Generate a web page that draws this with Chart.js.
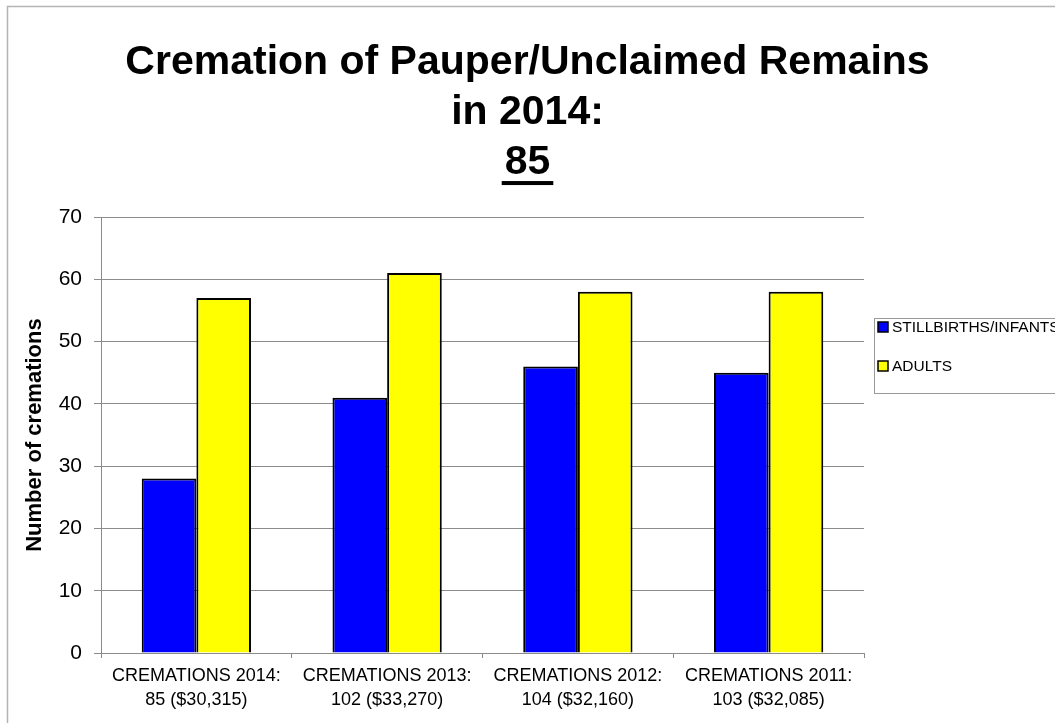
<!DOCTYPE html>
<html>
<head>
<meta charset="utf-8">
<script src="https://cdn.jsdelivr.net/npm/chart.js@4/dist/chart.umd.min.js"></script>
<style>
  html, body { margin: 0; padding: 0; background: #fff; overflow: hidden; }
  #wrap { width: 1055px; height: 723px; position: relative; }
</style>
</head>
<body>
<div id="wrap"><canvas id="chart"></canvas></div>
<script>
const titleLines = ['Cremation of Pauper/Unclaimed Remains', 'in 2014:', '85'];
const categories = [
  ['CREMATIONS 2014:', '85 ($30,315)'],
  ['CREMATIONS 2013:', '102 ($33,270)'],
  ['CREMATIONS 2012:', '104 ($32,160)'],
  ['CREMATIONS 2011:', '103 ($32,085)'],
];
const seriesNames = ['STILLBIRTHS/INFANTS', 'ADULTS'];
const stillbirths = [28, 41, 46, 45];
const adults = [57, 61, 58, 58];
const yTicks = [0, 10, 20, 30, 40, 50, 60, 70];

const FONT = "'Liberation Sans', Arial, sans-serif";
const GRID = '#8c8c8c';

// outer frame of the chart object
const framePlugin = {
  id: 'frame',
  beforeDraw(chart) {
    const ctx = chart.ctx;
    ctx.save();
    ctx.strokeStyle = '#b4b4b4';
    ctx.lineWidth = 1.5;
    ctx.strokeRect(7.5, 6.5, chart.width + 20, chart.height + 20);
    ctx.restore();
  },
};

// underline under the last title line
const underlinePlugin = {
  id: 'underline',
  afterDraw(chart) {
    const tb = chart.titleBlock;
    const opts = chart.options.plugins.title;
    const ctx = chart.ctx;
    ctx.save();
    ctx.font = `bold ${opts.font.size}px ${FONT}`;
    const w = ctx.measureText(titleLines[titleLines.length - 1]).width + 6;
    const lh = opts.font.size * opts.font.lineHeight;
    const cy = tb.top + opts.padding.top + lh * (titleLines.length - 0.5);
    const cx = (tb.left + tb.right) / 2;
    ctx.fillStyle = '#000';
    ctx.fillRect(cx - w / 2, cy + 18, w, 4);
    ctx.restore();
  },
};

// Excel-style boxed legend on the right, clipped by the canvas edge
const legendPlugin = {
  id: 'boxLegend',
  afterDraw(chart) {
    const ctx = chart.ctx;
    const x0 = 874, y0 = 318;
    ctx.save();
    ctx.strokeStyle = '#9a9a9a';
    ctx.lineWidth = 1;
    ctx.strokeRect(x0 + 0.5, y0 + 0.5, 220, 75);
    ctx.font = `15.5px ${FONT}`;
    ctx.textBaseline = 'middle';
    chart.data.datasets.forEach((ds, i) => {
      const cy = 327 + i * 39;
      ctx.fillStyle = ds.backgroundColor;
      ctx.fillRect(x0 + 4, cy - 5, 10, 10);
      ctx.strokeStyle = '#000';
      ctx.lineWidth = 1.5;
      ctx.strokeRect(x0 + 4, cy - 5, 10, 10);
      ctx.fillStyle = '#000';
      ctx.fillText(ds.label, x0 + 18, cy + 1);
    });
    ctx.restore();
  },
};

new Chart(document.getElementById('chart'), {
  type: 'bar',
  data: {
    labels: categories,
    datasets: [
      {
        label: seriesNames[0],
        data: stillbirths,
        backgroundColor: '#0000ff',
        borderColor: '#000',
        borderWidth: 2,
      },
      {
        label: seriesNames[1],
        data: adults,
        backgroundColor: '#ffff00',
        borderColor: '#000',
        borderWidth: 2,
      },
    ],
  },
  options: {
    responsive: true,
    maintainAspectRatio: false,
    animation: false,
    layout: { padding: 0 },
    datasets: {
      bar: { categoryPercentage: 0.573, barPercentage: 1 },
    },
    plugins: {
      legend: { display: false },
      tooltip: { enabled: false },
      title: {
        display: true,
        text: titleLines,
        color: '#000',
        font: { family: FONT, size: 41, weight: 'bold', lineHeight: 1.22 },
        padding: { top: 38, bottom: 29 },
      },
    },
    scales: {
      x: {
        grid: {
          drawOnChartArea: false,
          tickLength: 5,
          color: GRID,
          offset: true,
        },
        border: { color: GRID, width: 1 },
        ticks: {
          color: '#000',
          font: { family: FONT, size: 18, lineHeight: 1.33 },
          padding: 6,
          maxRotation: 0,
          autoSkip: false,
        },
        afterFit(scale) { scale.height = 70; },
      },
      y: {
        min: 0,
        max: 70,
        afterBuildTicks(scale) { scale.ticks = yTicks.map((v) => ({ value: v })); },
        grid: { color: GRID, tickLength: 7 },
        border: { color: GRID, width: 1 },
        ticks: {
          color: '#000',
          font: { family: FONT, size: 21 },
          padding: 12,
        },
        title: {
          display: true,
          text: 'Number of cremations',
          color: '#000',
          font: { family: FONT, size: 22, weight: 'bold', lineHeight: 1.2 },
          padding: { top: 22, bottom: 0 },
        },
        afterFit(scale) { scale.width = 101; },
      },
      // empty axis that reserves the legend's room on the right
      yRight: {
        position: 'right',
        grid: { display: false },
        border: { display: false },
        ticks: { display: false },
        afterFit(scale) { scale.width = 191; },
      },
    },
  },
  plugins: [framePlugin, underlinePlugin, legendPlugin],
});
</script>
</body>
</html>
